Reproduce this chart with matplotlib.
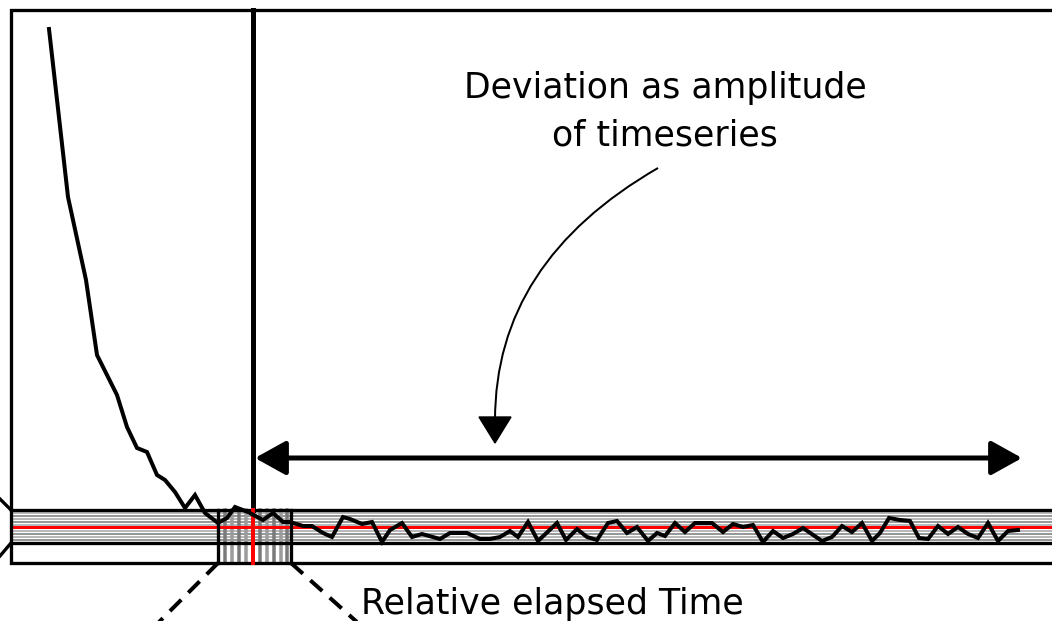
import numpy as np
import matplotlib
matplotlib.use("Agg")
import matplotlib.pyplot as plt
from matplotlib.path import Path
from matplotlib.patches import PathPatch, Polygon

# Diagram works in pixel units: x to the right, y downwards
W, H = 1052, 621

# Timeseries (elapsed position, level)
series_x = [49, 68, 86, 97, 117, 127, 137, 147, 157, 165, 175, 185, 195, 205,
            218, 227, 235, 248, 263, 273, 283, 290, 303, 312, 323, 332, 343,
            350, 362, 372, 382, 390, 402, 412, 422, 440, 450, 467, 480, 490,
            500, 510, 518, 528, 538, 557, 566, 577, 587, 597, 608, 617, 627,
            637, 648, 657, 665, 675, 685, 695, 712, 723, 733, 743, 753, 763,
            773, 783, 793, 803, 822, 832, 842, 852, 862, 872, 880, 889, 900,
            910, 919, 928, 938, 948, 958, 968, 978, 988, 998, 1008, 1018]
series_y = [29, 197, 280, 355, 395, 427, 448, 452, 475, 480, 492, 508, 495, 513,
            523, 518, 507, 512, 520, 513, 522, 522, 526, 526, 533, 537, 517,
            519, 524, 522, 542, 530, 523, 537, 534, 539, 533, 533, 539, 539,
            537, 531, 537, 522, 541, 523, 540, 529, 537, 540, 523, 521, 533,
            527, 541, 533, 536, 523, 532, 523, 523, 532, 524, 527, 525, 542,
            531, 538, 534, 528, 541, 537, 526, 532, 523, 541, 533, 518, 520,
            521, 538, 539, 526, 534, 527, 534, 538, 523, 541, 531, 530]

reference_level = 527
band_top, band_bottom = 510, 543
frame_left, frame_top, frame_bottom = 11, 10, 563
split_x = 253
window_left, window_right = 218, 291
window_offsets = [-28, -21, -14, -7, 7, 14, 21, 28, 34]

PX = 0.72  # pixels -> points at dpi 100

fig = plt.figure(figsize=(W / 100, H / 100), dpi=100)
ax = fig.add_axes([0, 0, 1, 1])
ax.set_xlim(0, W)
ax.set_ylim(H, 0)
ax.axis('off')

# grey band of horizontal levels
for i, y in enumerate(np.arange(band_top + 2.5, band_bottom, 3)):
    col = '#a8a8a8' if i % 2 == 0 else '#7f7f7f'
    ax.plot([frame_left, W], [y, y], color=col, lw=1.6 * PX, zorder=1)

# grey vertical lines inside the window
for k, off in enumerate(window_offsets):
    col = '#7a7a7a' if k % 2 == 0 else '#9c9c9c'
    ax.plot([split_x + off] * 2, [band_top, frame_bottom - 2], color=col,
            lw=3.5 * PX, zorder=1)

ax.plot([frame_left, W], [reference_level] * 2, color='red', lw=3 * PX, zorder=2)

# frame and band borders
k_lw = 3.3 * PX
ax.plot([W, frame_left, frame_left, W], [frame_top, frame_top, frame_bottom, frame_bottom],
        color='black', lw=k_lw, solid_joinstyle='miter', zorder=3)
ax.plot([frame_left, W], [band_top] * 2, color='black', lw=k_lw, zorder=3)
ax.plot([frame_left, W], [band_bottom] * 2, color='black', lw=k_lw, zorder=3)
ax.plot([0, frame_left], [499, band_top], color='black', lw=k_lw, zorder=3)
ax.plot([0, frame_left], [556, band_bottom], color='black', lw=k_lw, zorder=3)

# window box and split line
ax.plot([window_left, window_left], [band_top, frame_bottom], color='black', lw=k_lw, zorder=3)
ax.plot([window_right, window_right], [band_top, frame_bottom], color='black', lw=k_lw, zorder=3)
ax.plot([split_x, split_x], [frame_top, band_top], color='black', lw=5 * PX, zorder=3)
ax.plot([split_x, split_x], [band_top, frame_bottom], color='red', lw=4 * PX, zorder=4)

# dashed zoom lines
ax.plot([window_left, 158], [frame_bottom, H + 2], color='black', lw=4 * PX,
        dashes=(4, 2.5), zorder=3)
ax.plot([window_right, 358], [frame_bottom, H + 2], color='black', lw=4 * PX,
        dashes=(4, 2.5), zorder=3)

# timeseries
ax.plot(series_x, series_y, color='black', lw=4 * PX, solid_joinstyle='miter', zorder=5)

# double headed arrow
ax.annotate('', xy=(255, 458), xytext=(1022, 458),
            arrowprops=dict(arrowstyle='<|-|>,head_length=1.35,head_width=0.75',
                            color='black', lw=5 * PX, shrinkA=0, shrinkB=0,
                            mutation_scale=14))

# curved arrow
verts = [(658, 168), (495, 262), (495, 420)]
curve = Path(verts, [Path.MOVETO, Path.CURVE3, Path.CURVE3])
ax.add_patch(PathPatch(curve, fill=False, color='black', lw=2 * PX, zorder=5))
ax.add_patch(Polygon([(479, 417), (511, 417), (495, 443)], closed=True,
                     color='black', zorder=5))

fs = 25
ax.text(665, 98, 'Deviation as amplitude', ha='center', va='baseline', fontsize=fs)
ax.text(665, 145, 'of timeseries', ha='center', va='baseline', fontsize=fs)
ax.text(361, 614, 'Relative elapsed Time', ha='left', va='baseline', fontsize=fs)

fig.savefig('out.png', dpi=100)
